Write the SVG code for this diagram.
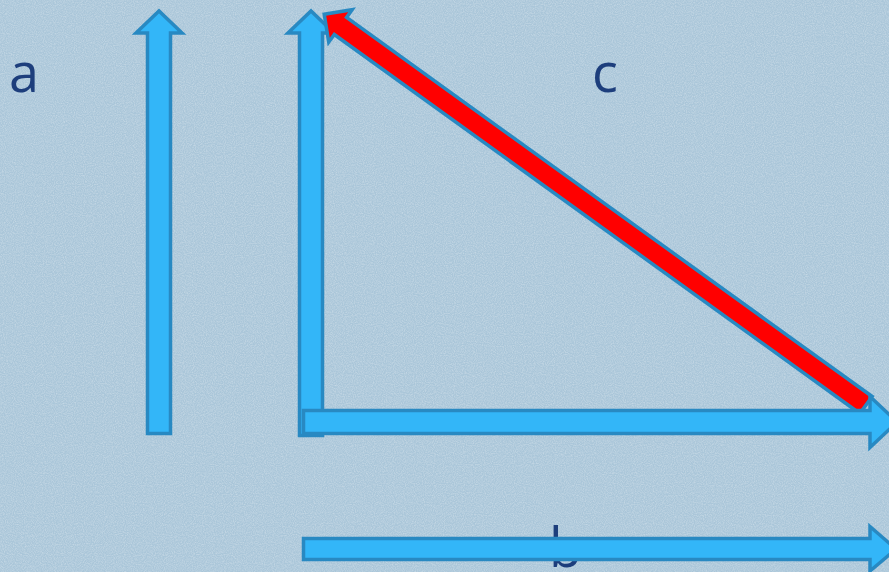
<svg xmlns="http://www.w3.org/2000/svg" width="889" height="572" viewBox="0 0 889 572">
<defs>
<filter id="tex" x="0" y="0" width="100%" height="100%">
<feTurbulence type="fractalNoise" baseFrequency="0.9" numOctaves="2" seed="3" result="n"/>
<feColorMatrix type="matrix" values="0 0 0 0 1  0 0 0 0 1  0 0 0 0 1  0 0 0 -1.2 0.8"/>
</filter>
<style>
.arr{fill:#33b6f8;stroke:#2889c2;stroke-width:3.5;stroke-linejoin:miter}
.red{fill:#ff0000;stroke:#2889c2;stroke-width:3.5;stroke-linejoin:miter}
.lbl{font-family:"Open Sans","Noto Sans",sans-serif;font-size:54px;fill:#1d3e7c}
</style>
</defs>
<rect width="889" height="572" fill="#aac6d9"/>
<rect width="889" height="572" filter="url(#tex)" opacity="0.45"/>
<g id="label-a"><text class="lbl" x="9" y="92">a</text></g>
<g id="label-c"><text class="lbl" x="592" y="92">c</text></g>
<g id="label-b"><text class="lbl" x="549" y="567">b</text></g>
<g id="connectors">
<polygon id="arrow-a" class="arr" points="147.5,433.5 147.5,33 136,33 159,11 182,33 170.5,33 170.5,433.5"/>
<polygon id="arrow-vertical" class="arr" points="299.5,435.5 299.5,33 288,33 311,11 334,33 322.5,33 322.5,435.5"/>
<polygon id="arrow-c" class="red" transform="translate(866,405) rotate(215.8)" points="0,-10.5 648,-10.5 648,-20 668,0 648,20 648,10.5 0,10.5"/>
<polygon id="arrow-horizontal" class="arr" points="303.5,410.5 870,410.5 870,396.5 897,422 870,447.5 870,433.5 303.5,433.5"/>
<polygon id="arrow-b" class="arr" points="303.5,538.5 870,538.5 870,526.5 896,549 870,571 870,559.5 303.5,559.5"/>
</g>
</svg>
